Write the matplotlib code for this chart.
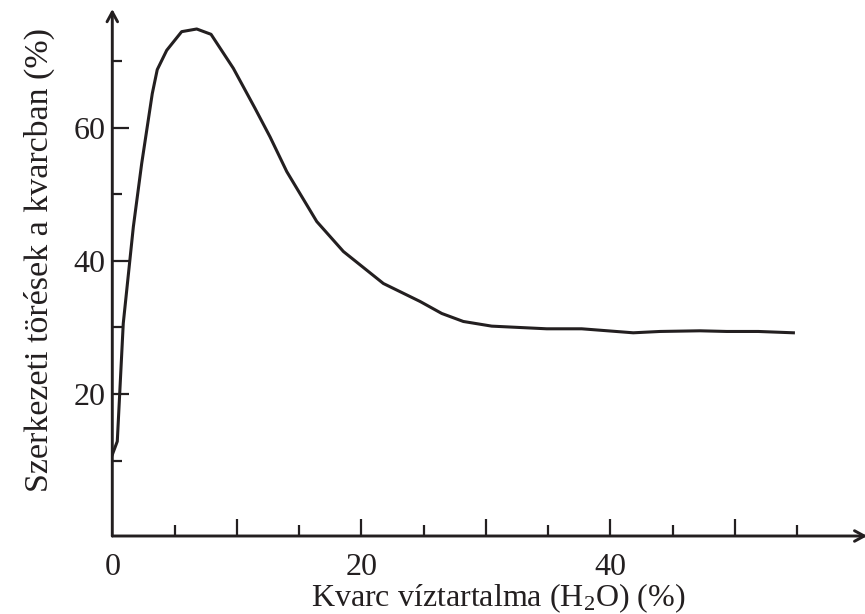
import matplotlib
matplotlib.use("Agg")
from matplotlib import pyplot as plt
from matplotlib.ticker import FixedLocator

# values
water = [0, 0.40, 0.88, 1.69, 2.36, 3.21, 3.61, 4.37, 5.57, 6.78, 7.93, 9.72,
         11.46, 12.67, 14.01, 16.42, 18.56, 21.77, 24.72, 26.46, 28.19, 30.47,
         34.89, 37.70, 41.84, 43.99, 47.19, 49.34, 51.88, 54.70]
fractures = [10.9, 12.9, 30.6, 45.1, 54.6, 65.1, 68.7, 71.6, 74.4, 74.8, 74.0,
             68.9, 62.9, 58.6, 53.4, 45.9, 41.4, 36.6, 33.9, 32.1, 30.9, 30.2,
             29.8, 29.8, 29.2, 29.4, 29.5, 29.4, 29.4, 29.2]

x_major = [10, 20, 30, 40, 50]
x_minor = [5, 15, 25, 35, 45, 55]
x_labels = [0, 20, 40]
y_major = [20, 40, 60]
y_minor = [10, 30, 50, 70]

ink = '#231f20'
fs = 23
plt.rcParams['font.family'] = ['Liberation Serif', 'DejaVu Serif']
plt.rcParams['mathtext.fontset'] = 'custom'
plt.rcParams['mathtext.rm'] = 'Liberation Serif'
plt.rcParams['mathtext.it'] = 'Liberation Serif:italic'

fig = plt.figure(figsize=(8.65, 6.14), dpi=100)
ax = fig.add_axes([112.3 / 865, 78 / 614, (865 - 112.3) / 865, 527 / 614])
ax.set_xlim(0, 60.45)
ax.set_ylim(-1.3, 77.8)

ax.plot(water, fractures, color=ink, lw=2.2, solid_joinstyle='round')

for s in ax.spines.values():
    s.set_visible(False)

# axis lines with open arrow heads
head = '->,head_length=0.7,head_width=0.38'
ax.annotate('', xy=(0, 1), xytext=(0, 0), xycoords='axes fraction',
            arrowprops=dict(arrowstyle=head, lw=2.1, color=ink,
                            shrinkA=0, shrinkB=0),
            annotation_clip=False)
ax.annotate('', xy=(1.003, 0), xytext=(0, 0), xycoords='axes fraction',
            arrowprops=dict(arrowstyle=head, lw=2.1, color=ink,
                            shrinkA=0, shrinkB=0),
            annotation_clip=False)

# x ticks: labels only at 0, 20, 40
ax.xaxis.set_major_locator(FixedLocator(x_major))
ax.xaxis.set_minor_locator(FixedLocator(x_minor))
ax.set_xticklabels([])
ax.tick_params(axis='x', which='major', direction='in', length=12, width=1.6,
               color=ink)
ax.tick_params(axis='x', which='minor', direction='in', length=8, width=1.6,
               color=ink)
for v in x_labels:
    ax.annotate(str(v), xy=(v, 0), xycoords=('data', 'axes fraction'),
                xytext=(0, -12), textcoords='offset points',
                ha='center', va='top', fontsize=fs, color=ink)

ax.yaxis.set_major_locator(FixedLocator(y_major))
ax.yaxis.set_minor_locator(FixedLocator(y_minor))
ax.tick_params(axis='y', which='major', direction='in', length=12, width=1.6,
               color=ink, labelsize=fs, labelcolor=ink, pad=5)
ax.tick_params(axis='y', which='minor', direction='in', length=7.5, width=1.6,
               color=ink)

ax.set_xlabel(r'Kvarc víztartalma (H$_2$O) (%)', fontsize=fs, color=ink)
ax.xaxis.set_label_coords((498 - 112.3) / (865 - 112.3), -(581 - 536) / 527)
ax.set_ylabel('Szerkezeti törések a kvarcban (%)', fontsize=24.5, color=ink)
ax.yaxis.set_label_coords(-(112.3 - 55) / (865 - 112.3), (536 - 260) / 527)

fig.savefig('out.png', dpi=100)
